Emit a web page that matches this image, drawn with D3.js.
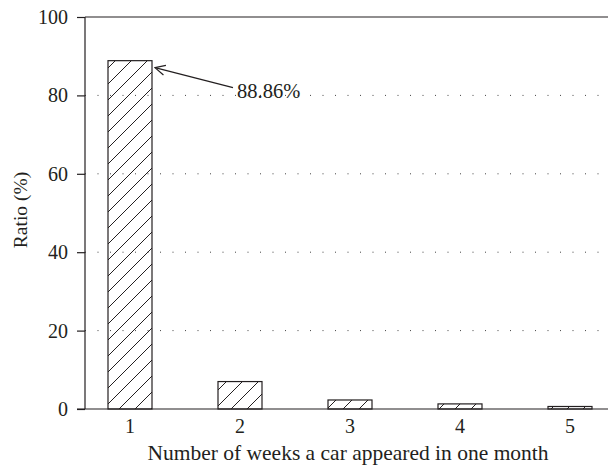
<!DOCTYPE html>
<html><head><meta charset="utf-8">
<script src="https://cdn.jsdelivr.net/npm/d3@7"></script>
<style>body{margin:0;background:#fff}svg{display:block}svg text{font-family:"Liberation Serif","DejaVu Serif",serif !important;fill:#231f20}</style>
</head><body><svg id="c" width="608" height="468"></svg>
<script>
const categories = [1, 2, 3, 4, 5];
const ratios = [88.86, 7.0, 2.3, 1.3, 0.64];
const yTicks = [0, 20, 40, 60, 80, 100];
const gridTicks = [20, 40, 60, 80];
const annotationText = "88.86%";
const xTitle = "Number of weeks a car appeared in one month";
const yTitle = "Ratio (%)";

const svg = d3.select("#c");
const plotLeft = 85, plotRight = 608, plotTop = 17, plotBottom = 409;
const x = d3.scaleBand().domain(categories).range([75, 625]).paddingInner(0.6).paddingOuter(0.3);
const y = d3.scaleLinear().domain([0, 100]).range([plotBottom, plotTop]);
const ink = "#231f20";
const fs = 20;

const defs = svg.append("defs");
const pat = defs.append("pattern").attr("id", "hatch").attr("patternUnits", "userSpaceOnUse")
  .attr("width", 16).attr("height", 16);
pat.append("path").attr("d", "M-4,4 L4,-4 M0,16 L16,0 M12,20 L20,12").attr("stroke", ink).attr("stroke-width", 1);
const mk = defs.append("marker").attr("id", "arr").attr("viewBox", "0 0 12 12").attr("refX", 11).attr("refY", 6)
  .attr("markerWidth", 12).attr("markerHeight", 12).attr("markerUnits", "userSpaceOnUse").attr("orient", "auto");
mk.append("path").attr("d", "M1,1 L11,6 L1,11").attr("fill", "none").attr("stroke", ink).attr("stroke-width", 1.2);

// grid
svg.append("g").selectAll("line").data(gridTicks).join("line")
  .attr("x1", plotLeft).attr("x2", plotRight).attr("y1", d => y(d)).attr("y2", d => y(d))
  .attr("stroke", "#444").attr("stroke-width", 1).attr("stroke-dasharray", "1,11.5");

// bars
svg.append("g").selectAll("rect").data(categories).join("rect")
  .attr("x", d => x(d)).attr("width", x.bandwidth())
  .attr("y", (d, i) => y(ratios[i])).attr("height", (d, i) => y(0) - y(ratios[i]))
  .attr("fill", "url(#hatch)").attr("stroke", ink).attr("stroke-width", 1.2);

// y axis
const yAxis = svg.append("g").attr("transform", `translate(${plotLeft},0)`)
  .call(d3.axisLeft(y).tickValues(yTicks).tickSize(8).tickPadding(9));
yAxis.attr("font-family", null).attr("font-size", fs);
yAxis.select(".domain").remove();
yAxis.selectAll("line").attr("stroke", ink).attr("stroke-width", 1.2);
yAxis.selectAll("text").attr("fill", ink);
svg.append("line").attr("x1", plotLeft).attr("x2", plotLeft).attr("y1", plotTop).attr("y2", plotBottom)
  .attr("stroke", ink).attr("stroke-width", 1.2);
svg.append("line").attr("x1", plotLeft).attr("x2", plotRight).attr("y1", plotTop).attr("y2", plotTop)
  .attr("stroke", ink).attr("stroke-width", 1.2);

// x axis
const xAxis = svg.append("g").attr("transform", `translate(0,${plotBottom})`)
  .call(d3.axisBottom(x).tickSize(0).tickPadding(10));
xAxis.attr("font-family", null).attr("font-size", fs);
xAxis.select(".domain").remove();
xAxis.selectAll("text").attr("fill", ink);
svg.append("line").attr("x1", 77).attr("x2", plotRight).attr("y1", plotBottom).attr("y2", plotBottom)
  .attr("stroke", ink).attr("stroke-width", 1.2);

// titles
svg.append("text").attr("x", 348).attr("y", 460).attr("text-anchor", "middle")
  .attr("font-size", 21.5).text(xTitle);
svg.append("text").attr("transform", `translate(27,210) rotate(-90)`)
  .attr("text-anchor", "middle").attr("font-size", 19.5).text(yTitle);

// annotation
const bx = x(1) + x.bandwidth(), by = y(ratios[0]);
svg.append("line").attr("x1", 233).attr("y1", by + 27).attr("x2", bx + 3).attr("y2", by + 7)
  .attr("stroke", ink).attr("stroke-width", 1.2).attr("marker-end", "url(#arr)");
svg.append("text").attr("x", 237).attr("y", by + 37).attr("font-size", 20.5).text(annotationText);
</script></body></html>
